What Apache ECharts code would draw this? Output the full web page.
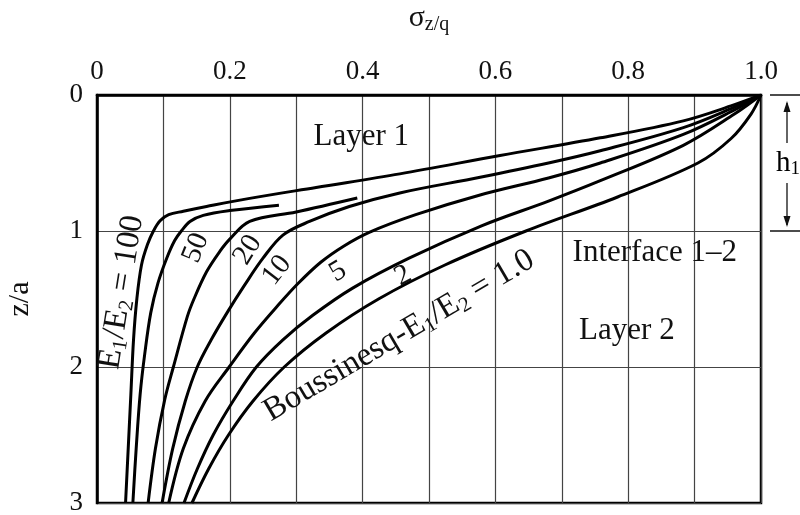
<!DOCTYPE html>
<html><head><meta charset="utf-8">
<script src="https://cdn.jsdelivr.net/npm/echarts@6/dist/echarts.min.js"></script>
<style>html,body{margin:0;padding:0;background:#fff}#c{width:800px;height:515px}</style>
</head><body><div id="c"></div>
<script>
// Tick labels
const xTickLabels = ['0', '0.2', '0.4', '0.6', '0.8', '1.0'];
const yTickLabels = ['0', '1', '2', '3'];

// Curves: [sigma_z/q, z/a]
const curve100 = [[0.043,3.0],[0.047,2.6],[0.051,2.2],[0.055,1.8],[0.060,1.5],[0.067,1.25],[0.076,1.1],[0.085,1.0],[0.095,0.925],[0.108,0.88],[0.13,0.855],[0.165,0.82],[0.23,0.76],[0.33,0.68],[0.456,0.58],[0.607,0.445],[0.758,0.315],[0.883,0.19],[0.958,0.075],[1.0,0]];
const curve50 = [[0.054,3.0],[0.059,2.6],[0.065,2.2],[0.072,1.9],[0.081,1.6],[0.092,1.38],[0.105,1.2],[0.117,1.07],[0.127,1.0],[0.14,0.93],[0.16,0.885],[0.2,0.85],[0.274,0.81]];
const curve20 = [[0.077,3.0],[0.088,2.6],[0.102,2.24],[0.115,2.0],[0.136,1.63],[0.146,1.5],[0.165,1.3],[0.185,1.15],[0.2,1.06],[0.23,0.93],[0.3,0.86],[0.392,0.757]];
const curve10 = [[0.098,3.0],[0.114,2.6],[0.133,2.25],[0.151,2.0],[0.172,1.8],[0.196,1.6],[0.222,1.4],[0.25,1.2],[0.28,1.03],[0.32,0.93],[0.38,0.82],[0.456,0.72],[0.577,0.605],[0.68,0.5],[0.758,0.41],[0.883,0.24],[0.96,0.09],[1.0,0]];
const curve5 = [[0.108,3.0],[0.13,2.6],[0.163,2.25],[0.199,2.0],[0.237,1.75],[0.272,1.55],[0.302,1.39],[0.337,1.23],[0.372,1.11],[0.41,1.01],[0.48,0.88],[0.577,0.735],[0.68,0.61],[0.758,0.5],[0.883,0.29],[0.96,0.11],[1.0,0]];
const curve2 = [[0.131,3.0],[0.151,2.75],[0.175,2.5],[0.205,2.25],[0.24,2.0],[0.28,1.8],[0.325,1.62],[0.385,1.42],[0.47,1.2],[0.58,0.96],[0.68,0.78],[0.758,0.63],[0.883,0.37],[0.96,0.14],[1.0,0]];
const curve1 = [[0.143,3.0],[0.168,2.75],[0.198,2.5],[0.235,2.25],[0.282,2.0],[0.345,1.75],[0.424,1.5],[0.524,1.25],[0.646,1.0],[0.784,0.75],[0.905,0.5],[0.955,0.32],[0.985,0.14],[1.0,0]];
const curveNames = ['100', '50', '20', '10', '5', '2', '1.0'];
const curves = [curve100, curve50, curve20, curve10, curve5, curve2, curve1];

const FONT = '"Liberation Serif", "Times New Roman", serif';
const chart = echarts.init(document.getElementById('c'));

const subRich = (size) => ({
  a: {fontFamily: FONT, fontSize: size, color: '#111'},
  s: {fontFamily: FONT, fontSize: Math.round(size * 0.65), color: '#111', padding: [Math.round(size * 0.45), 0, 0, 0]}
});

chart.setOption({
  animation: false,
  backgroundColor: '#fff',
  grid: {left: 97, top: 95, width: 664, height: 408, show: true, borderColor: '#000', borderWidth: 2.5,
         backgroundColor: 'transparent', containLabel: false, outerBoundsMode: 'none'},
  xAxis: {
    type: 'value', position: 'top', min: 0, max: 1, interval: 0.1,
    axisLine: {show: true, lineStyle: {color: '#000', width: 2.5}},
    axisTick: {show: false},
    splitLine: {show: true, lineStyle: {color: '#444', width: 1.2}},
    axisLabel: {
      formatter: v => { const i = Math.round(v * 10); return i % 2 === 0 ? xTickLabels[i / 2] : ''; },
      fontFamily: FONT, fontSize: 27, color: '#111', margin: 10
    },
    name: '{a|σ}{s|z/q}', nameLocation: 'middle', nameGap: 60,
    nameTextStyle: {rich: subRich(30)}
  },
  yAxis: {
    type: 'value', inverse: true, min: 0, max: 3, interval: 1,
    axisLine: {show: true, lineStyle: {color: '#000', width: 2.5}},
    axisTick: {show: false},
    splitLine: {show: true, lineStyle: {color: '#444', width: 1.2}},
    axisLabel: {formatter: v => yTickLabels[Math.round(v)], fontFamily: FONT, fontSize: 27, color: '#111', margin: 14},
    name: 'z/a', nameLocation: 'middle', nameGap: 62, nameRotate: 90,
    nameTextStyle: {fontFamily: FONT, fontSize: 30, color: '#111'}
  },
  series: curves.map((d, i) => ({
    type: 'line', name: curveNames[i], data: d, symbol: 'none', smooth: 0.35,
    lineStyle: {color: '#000', width: 3}, z: 3
  }))
});

// Annotations placed in data coordinates
const P = (x, z) => chart.convertToPixel({gridIndex: 0}, [x, z]);
const deg = d => d * Math.PI / 180;
function txt(x, z, text, size, rotDeg) {
  const p = P(x, z);
  return {type: 'text', x: p[0], y: p[1], rotation: deg(rotDeg || 0), z: 10,
    style: {text: text, rich: subRich(size), fontFamily: FONT, fontSize: size, fill: '#111', align: 'center', verticalAlign: 'middle'}};
}
const graphics = [
  txt(0.398, 0.31, '{a|Layer 1}', 31, 0),
  txt(0.84, 1.16, '{a|Interface 1–2}', 31, 0),
  txt(0.798, 1.735, '{a|Layer 2}', 31, 0),
  txt(0.037, 1.45, '{a|E}{s|1}{a|/E}{s|2}{a| = 100}', 33, 81),
  txt(0.149, 1.125, '{a|50}', 29, 68),
  txt(0.227, 1.14, '{a|20}', 29, 58),
  txt(0.271, 1.29, '{a|10}', 29, 52),
  txt(0.363, 1.3, '{a|5}', 29, 30),
  txt(0.461, 1.33, '{a|2}', 29, 28),
  txt(0.455, 1.77, '{a|Boussinesq-E}{s|1}{a|/E}{s|2}{a| = 1.0}', 33, 30.5)
];
// h1 bracket to the right of the plot
const top0 = P(1, 0), one = P(1, 1);
const bx0 = top0[0] + 9, bx1 = top0[0] + 40, ax = top0[0] + 26;
const ln = (x1, y1, x2, y2, w) => ({type: 'line', z: 10, shape: {x1, y1, x2, y2}, style: {stroke: '#111', lineWidth: w || 1.5}});
graphics.push(ln(bx0, top0[1], bx1, top0[1], 1.5));
graphics.push(ln(bx0, one[1], bx1, one[1], 1.5));
graphics.push(ln(ax, top0[1] + 8, ax, top0[1] + 48, 1.3));
graphics.push(ln(ax, one[1] - 48, ax, one[1] - 6, 1.3));
graphics.push({type: 'polygon', z: 10, shape: {points: [[ax, top0[1] + 6], [ax - 3.5, top0[1] + 17], [ax + 3.5, top0[1] + 17]]}, style: {fill: '#111'}});
graphics.push({type: 'polygon', z: 10, shape: {points: [[ax, one[1] - 4], [ax - 3.5, one[1] - 15], [ax + 3.5, one[1] - 15]]}, style: {fill: '#111'}});
graphics.push({type: 'text', z: 10, x: ax + 1, y: (top0[1] + one[1]) / 2, style: {text: '{a|h}{s|1}', rich: subRich(29), align: 'center', verticalAlign: 'middle'}});
chart.setOption({graphic: graphics});
</script>
</body></html>
